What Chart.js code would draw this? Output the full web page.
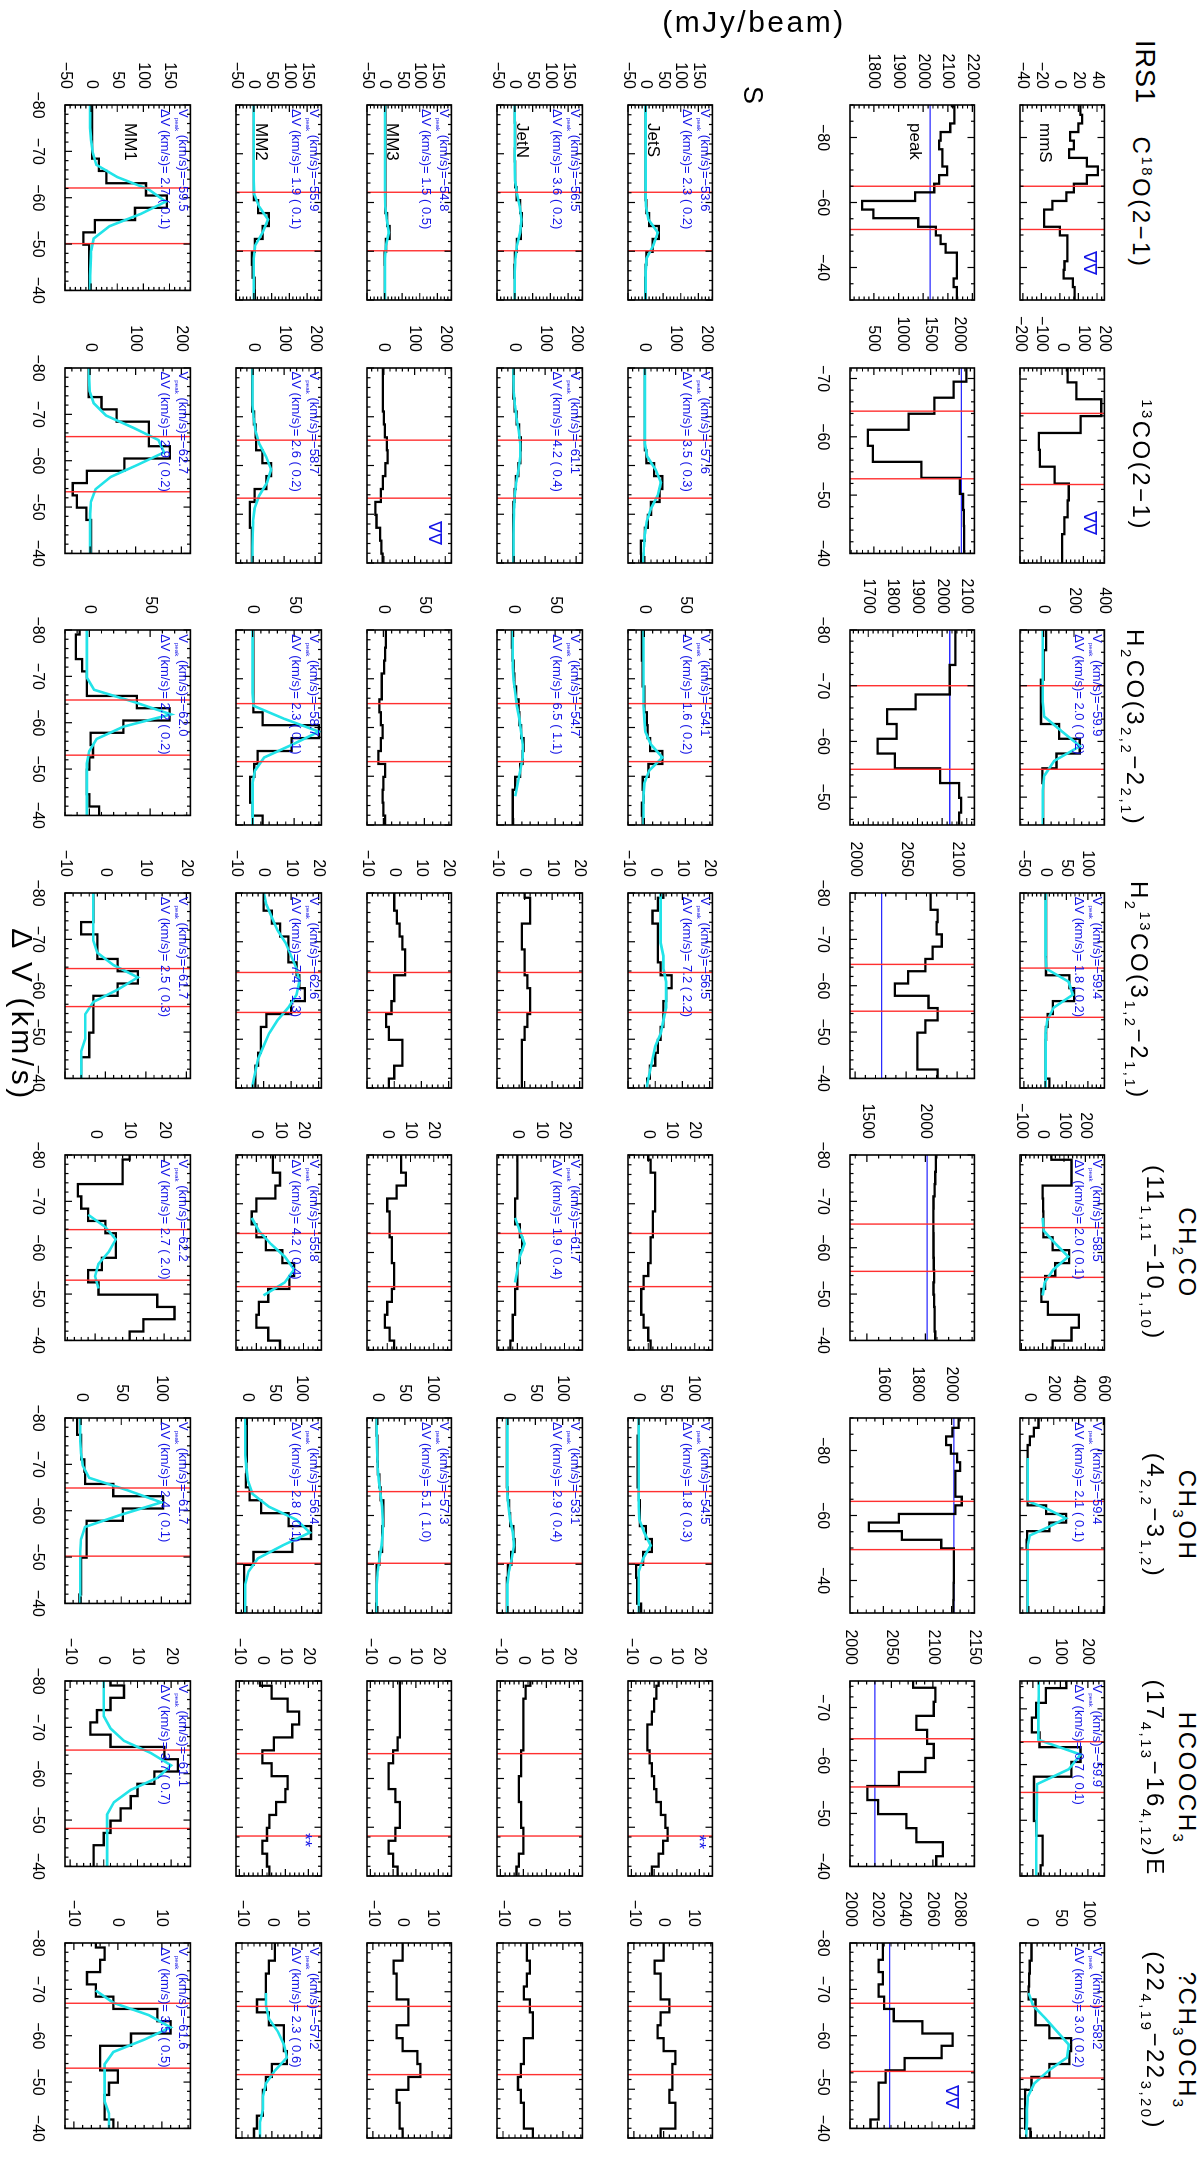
<!DOCTYPE html>
<html>
<head>
<meta charset="utf-8">
<script src="https://cdn.jsdelivr.net/npm/chart.js@4.4.1/dist/chart.umd.min.js"></script>
<style>
html, body { margin: 0; padding: 0; background: #fff; }
body { width: 1200px; height: 2158px; overflow: hidden; position: relative; font-family: "Liberation Sans", Arial, sans-serif; }
#fig { position: absolute; left: 0; top: 0; width: 2158px; height: 1200px; transform-origin: 0 0; transform: translate(1200px, 0) rotate(90deg); }
#fig canvas { position: absolute; }
.t { position: absolute; white-space: nowrap; color: #000; }
.title { font-size: 24px; letter-spacing: 2.5px; line-height: 26px; transform: translateX(-50%); }
.big { font-size: 27px; letter-spacing: 1px; line-height: 30px; }
.src { font-size: 17px; line-height: 20px; }
.ann { font-size: 13px; color: #1414e6; line-height: 18px; }
.ann sub { font-size: 48%; }
sub, sup { font-size: 62%; line-height: 0; }
</style>
</head>
<body>
<div id="fig"></div>
<script>
// channel centres (km/s)
var velS = [-80.35, -77.70, -75.05, -72.40, -69.75, -67.10, -64.45, -61.80, -59.15, -56.50, -53.85, -51.20, -48.55, -45.90, -43.25, -40.60, -37.95];
var velWide = [-90.95, -88.30, -85.65, -83.00, -80.35, -77.70, -75.05, -72.40, -69.75, -67.10, -64.45, -61.80, -59.15, -56.50, -53.85, -51.20, -48.55, -45.90, -43.25, -40.60, -37.95, -35.30, -32.65, -30.00];
var vel13co = [-73.58, -70.83, -68.08, -65.33, -62.58, -59.83, -57.08, -54.33, -51.58, -48.83, -46.08, -43.33, -40.58, -37.83];

// C18O(2-1)
var c18o_mmS = [22, 22, 24, 20, 11, 15, 10, 29, 41, 29, 15, 7, -8, -17, -17, 0, 8, 8, 8, 5, 4, 14, 16, 16];
var c18o_peak = [2117, 2127, 2127, 2110, 2071, 2065, 2078, 2078, 2097, 2065, 2045, 1967, 1752, 1798, 1980, 2052, 2071, 2091, 2137, 2137, 2137, 2124, 2137, 2137];
var c18o_JetS = [0, 0, 0, 0, 0, 0, 0, 0, 2, 10, 38, 20, 2, 0, -1, -1, -1];
var c18o_JetS_fit = [0, 0, 0, 0, 0, 0, 0, 0, 1, 8, 35, 22, 3, 0, 0, 0, 0];
var c18o_JetN = [0, 0, 1, 1, 0, 1, 1, 5, 15, 20, 17, 6, 0, -1, 0, 0, 0];
var c18o_JetN_fit = [0, 0, 0, 0, 0, 0, 1, 6, 14, 19, 15, 6, 2, 0, 0, 0, 0];
var c18o_MM3 = [2, 2, 2, 2, 2, 2, 2, 2, 2, 7, 14, 4, 0, 1, 1, 1, 1];
var c18o_MM3_fit = [1, 1, 1, 1, 1, 1, 1, 1, 2, 6, 12, 4, 1, 1, 1, 1, 1];
var c18o_MM2 = [0, 0, 0, 0, 0, 0, 0, 0, 12, 42, 25, 3, -5, -3, 2, 3, 3];
var c18o_MM2_fit = [0, 0, 0, 0, 0, 0, 0, 1, 15, 40, 25, 4, 0, 0, 0, 0, 0];
var c18o_MM1 = [2, 2, 2, 2, 2, 15, 29, 105, 145, 84, 7, -15, -4, -4, -4, -4, -4];
var c18o_MM1_fit = [-2, -2, -2, 0, 3, 10, 50, 110, 143, 95, 35, 5, 0, -1, -2, -2, -2];

// 13CO(2-1)
var co13_mmS = [26, 26, 67, 185, 87, -111, -106, -36, 31, 26, 10, 0, 0, 0];
var co13_peak = [2128, 2128, 1903, 1564, 1113, 396, 481, 1338, 2016, 2070, 2085, 2090, 2090, 2090];
var co13_JetS = [0, 0, 0, 0, 0, 0, 0, 5, 30, 57, 48, 20, 10, 0, -13, -12, -8];
var co13_JetS_fit = [0, 0, 0, 0, 0, 0, 0, 8, 35, 52, 42, 20, 6, 0, -3, -5, -5];
var co13_JetN = [-2, -2, -2, 2, 8, 16, 22, 20, 14, 6, 2, -2, -3, -3, -3, -3, -3];
var co13_JetN_fit = [-2, -2, -1, 3, 8, 15, 20, 20, 14, 7, 2, 0, -1, -2, -2, -2, -2];
var co13_MM3 = [-3, -3, -3, -3, 0, 3, 10, 12, 5, -3, -10, -28, -24, -12, -8, -4, -4];
var co13_MM2 = [-3, -3, -3, -3, 3, 8, 10, 30, 58, 43, 5, -10, -10, -4, -4, -4, -4];
var co13_MM2_fit = [-2, -2, -2, -2, 2, 8, 20, 42, 58, 45, 20, 5, 0, -1, -2, -2, -2];
var co13_MM1 = [-3, -3, -3, 25, 58, 129, 129, 175, 75, -7, -38, -29, -8, 2, 2, 2, 2];
var co13_MM1_fit = [-2, -2, -1, 8, 35, 95, 150, 162, 105, 45, 12, 2, 0, 0, 0, 0, 0];

// H2CO(3_2,2-2_2,1)
var h2co_mmS = [17, 17, 0, 0, -17, -17, -17, 102, 238, 85, -8, -3, -3, -3, -3, -3, -3];
var h2co_mmS_fit = [-5, -5, -5, -5, -5, -5, 5, 120, 240, 70, 5, -5, -5, -5, -5, -5, -5];
var h2co_peak = [2054, 2054, 2054, 2031, 2031, 1892, 1777, 1815, 1738, 1808, 1992, 2069, 2077, 2069, 2069, 2069, 2069];
var h2co_JetS = [-3, -3, -3, -2, -2, 0, 0, 3, 4, 7, 22, 5, -2, -1, -3, -2, -2];
var h2co_JetS_fit = [-1, -1, -1, -1, -1, -1, -1, 0, 1, 8, 22, 6, 0, -1, -1, -1, -1];
var h2co_JetN = [-2, -2, -1, 0, 1, 3, 6, 7, 9, 12, 11, 8, 2, -1, -1, -1, -1];
var h2co_JetN_fit = [-1, -1, -1, -1, 0, 2, 4, 7, 9, 11, 11, 8, 5, 2, null, null, null];
var h2co_MM3 = [3, 3, 2, 1, -2, -2, -5, -3, -1, -3, -6, 2, 0, -1, 0, 2, 2];
var h2co_MM2 = [1, 1, 1, 1, 1, 1, 1, 12, 80, 47, 6, 2, -3, -3, 0, 12, 12];
var h2co_MM2_fit = [0, 0, 0, 0, 0, 0, 1, 38, 80, 48, 14, 3, 0, 0, 0, 0, 0];
var h2co_MM1 = [-8, -11, -11, -6, -2, -2, 39, 66, 28, 1, 3, 0, -2, -2, 0, 8, 8];
var h2co_MM1_fit = [-2, -2, -2, -2, -2, 4, 37, 67, 28, 6, 0, -2, -2, -2, -2, -2, -2];

// H2 13CO(3_1,2-2_1,1)
var h213co_mmS = [2, 2, 2, 2, 2, 2, 2, 57, 68, 18, 6, 2, 1, 1, 1, 10, 10];
var h213co_mmS_fit = [1, 1, 1, 1, 1, 1, 3, 55, 65, 20, 5, 1, 1, 1, 1, 1, 1];
var h213co_peak = [2074, 2074, 2081, 2080, 2085, 2076, 2069, 2052, 2039, 2072, 2081, 2069, 2061, 2061, 2061, 2081, 2096];
var h213co_JetS = [3, 1, -1, 1, 1, 1, 2, 6, 4, 3, 3, 2, 1, 0, -2, -3, -3];
var h213co_JetS_fit = [2, 2, 2, 2, 2, 3, 3, 4, 4, 4, 3, 2, 0, -1, -2, -3, -3];
var h213co_JetN = [0, 2, 2, -1, -1, 0, 0, 1, 2, 2, 1, 0, -1, -1, -1, -1, -1];
var h213co_MM3 = [0, 0, 1, 2, 3, 4, 4, 0, 0, -1, -3, -2, 3, 3, 0, -2, -2];
var h213co_MM2 = [0, 0, 3, 6, 9, 9, 12, 13, 15, 10, 1, -1, -1, -2, -3, -3, -3];
var h213co_MM2_fit = [0, 1, 3, 5, 8, 10, 12, 13, 12, 9, 5, 2, 0, -2, -3, -4, -4];
var h213co_MM1 = [-3, -3, -3, -6, -2, -2, 3, 8, 3, -3, -3, -3, -4, -4, -6, -6, -6];
var h213co_MM1_fit = [-3, -3, -3, -3, -3, -2, 2, 8, 3, -3, -5, -5, -5, -6, -6, -6, -6];

// CH2CO(11_1,11-10_1,10)
var ch2co_mmS = [41, 135, 135, 0, 2, 3, 3, 47, 124, 59, 12, -6, 24, 170, 135, 47, 47];
var ch2co_mmS_fit = [null, null, null, null, null, 0, 5, 60, 120, 50, 10, 0, null, null, null, null, null];
var ch2co_peak = [2090, 2090, 2085, 2080, 2070, 2068, 2068, 2070, 2070, 2072, 2075, 2070, 2075, 2080, 2080, 2085, 2085];
var ch2co_JetS = [0, 1, 3, 3, 3, 2, 2, 1, 1, 0, -2, -3, -3, -2, 0, 1, 1];
var ch2co_JetN = [0, 0, 0, 0, -1, -1, 1, 2, 1, 0, 0, -1, -1, -2, -2, -3, -3];
var ch2co_JetN_fit = [null, null, null, null, null, -1, 1, 3, 1, 0, -1, null, null, null, null, null, null];
var ch2co_MM3 = [6, 6, 8, 4, 0, 1, 1, 2, 2, 3, 3, 2, 0, -1, 1, 3, 3];
var ch2co_MM2 = [7, 7, 10, 8, 0, -2, 0, 4, 11, 16, 14, 5, 1, 0, 5, 10, 10];
var ch2co_MM2_fit = [null, null, null, null, null, -2, 1, 6, 12, 16, 12, 3, null, null, null, null, null];
var ch2co_MM1 = [10, 8, 8, -5, -4, -2, 3, 6, 6, 2, -2, 1, 18, 23, 14, 10, 10];
var ch2co_MM1_fit = [null, null, null, null, null, -2, 3, 6, 4, 1, 0, 1, null, null, null, null, null];

// CH3OH(4_2,2-3_1,2)
var ch3oh_mmS = [77, 77, 40, 7, -10, -10, -10, -10, -10, -10, -10, 138, 300, 164, -15, -19, -10, -10, -10, -10, -10, -10, -10, -10];
var ch3oh_mmS_fit = [null, null, null, null, null, -10, -10, -10, -10, -10, -10, 160, 298, 160, 7, -8, -10, -10, -10, -10, -10, -10, -10, -10];
var ch3oh_peak = [2041, 2041, 2004, 1967, 1995, 2032, 2050, 2022, 2022, 2022, 2059, 2022, 1691, 1516, 1709, 1939, 2013, 2013, 2013, 2013, 2012, 2011, 2010, 2010];
var ch3oh_JetS = [0, 0, -2, -2, -2, -2, 0, 2, 2, 13, 24, 8, -5, -3, -3, 4, 0];
var ch3oh_JetS_fit = [0, 0, 0, 0, 0, 0, 0, 0, 1, 10, 22, 8, 0, 0, 0, 0, 0];
var ch3oh_JetN = [-2, -2, -2, -2, -2, -2, 0, 2, 4, 10, 12, 6, 0, -2, -2, -2, -2];
var ch3oh_JetN_fit = [-1, -1, -1, -1, -1, -1, -1, 1, 4, 9, 11, 7, 2, -1, -1, -1, -1];
var ch3oh_MM3 = [-2, -2, -1, -1, 0, 3, 5, 10, 10, 8, 8, 3, -2, -2, -2, -3, -3];
var ch3oh_MM3_fit = [-2, -2, -2, -1, 0, 2, 5, 8, 9, 9, 7, 3, 0, -2, -2, -2, -2];
var ch3oh_MM2 = [0, 0, 0, 0, -1, -2, 5, 26, 76, 117, 83, 12, -5, -5, -5, -5, -5];
var ch3oh_MM2_fit = [-3, -3, -3, -3, -1, 2, 10, 40, 90, 115, 65, 20, 3, -3, -3, -3, -3];
var ch3oh_MM1 = [-5, -5, 0, 0, 4, 5, 40, 102, 52, 7, 7, 7, 0, 0, 0, -2, -2];
var ch3oh_MM1_fit = [-1, -1, -1, 0, 2, 10, 57, 100, 50, 5, 0, -1, -1, -1, -1, -1, -1];

// HCOOCH3(17_4,13-16_4,12)E
var hcooch3_mmS = [122, 122, 122, 47, 12, -4, 24, 173, 140, 4, 4, 4, 12, 35, 35, 28, 28];
var hcooch3_mmS_fit = [22, 22, 21, 21, 20, 20, 20, 173, 130, 16, 15, 14, 13, 12, 12, 12, 12];
var hcooch3_peak = [2076, 2076, 2076, 2103, 2101, 2080, 2093, 2101, 2091, 2059, 2021, 2034, 2068, 2080, 2112, 2104, 2104];
var hcooch3_JetS = [2, 1, 0, -1, -3, -3, -2, -1, 0, 1, 3, 5, 6, 4, 2, -1, -1];
var hcooch3_JetN = [3, 1, 0, 0, 0, 0, -1, -1, -2, -2, -1, -1, 0, 0, -2, -3, -3];
var hcooch3_MM3 = [3, 3, 3, 3, 3, 2, 0, -2, -2, 1, 3, 3, 1, -2, 0, 2, 2];
var hcooch3_MM2 = [-1, 4, 11, 16, 13, 5, 0, 4, 11, 10, 6, 3, 2, 0, 2, 3, 3];
var hcooch3_MM1 = [2, 6, 2, -2, -4, 2, 18, 22, 15, 10, 8, 5, 2, 0, -3, -3, -3];
var hcooch3_MM1_fit = [0, 0, 0, 0, 2, 6, 14, 20, 16, 8, 3, 1, 1, 1, 1, 1, 1];

// ?CH3OCH3(22_4,19-22_3,20)
var ch3och3_mmS = [0, 0, -3, -4, -5, 7, 7, 31, 69, 66, 31, 0, -11, -11, -11, -2, -2];
var ch3och3_mmS_fit = [null, null, null, null, -5, 3, 25, 45, 65, 62, 30, 5, -6, -8, -8, -9, -9];
var ch3och3_peak = [2024, 2024, 2021, 2024, 2021, 2025, 2032, 2053, 2075, 2067, 2040, 2026, 2021, 2021, 2021, 2015, 2015];
var ch3och3_JetS = [0, 0, -3, -1, -1, 2, -1, -2, 0, 4, 3, 3, 2, 4, 4, -1, -1];
var ch3och3_JetN = [-2, -2, -1, -2, -3, -1, 0, 0, -3, -3, -4, -5, -4, -3, -3, 0, 0];
var ch3och3_MM3 = [0, 0, -3, -2, -2, 2, 2, -2, 0, 5, 6, 2, -2, -1, -1, 0, 0];
var ch3och3_MM2 = [1, 1, -1, -2, -2, -5, -1, 4, 4, 5, 0, -2, -3, -3, -5, -6, -6];
var ch3och3_MM2_fit = [null, null, null, null, -2, -2, -1, 2, 4, 5, 1, -2, -3, -3, -4, -4, -4];
var ch3och3_MM1 = [-5, -3, -4, -7, -5, -1, 9, 12, 3, -4, -4, 0, -2, -3, -3, -1, -1];
var ch3och3_MM1_fit = [null, null, null, null, -5, -1, 7, 12, 6, -1, -3, -3, -3, -3, -2, -2, -2];

// continuum level drawn in the peak panels (mJy/beam)
var contLevel = [2028, 2042, 2031, 2026, 2016, 2013, 2030, 2029];
// velocity limits (red lines) for the S block and the IRS1 block
var redS = [[-62.1, -50.1], [-65.2, -53.3], [-64.9, -53.0], [-63.7, -55.5], [-63.9, -53.0], [-64.9, -50.2], [-65.1, -48.2], [-67.0, -53.0]];
var redIRS = [[-65.0, -51.7], [-64.4, -52.8], [-70.0, -55.0], [-64.6, -54.5], [-65.1, -54.9], [-64.35, -49.5], [-64.1, -55.0], [-67.0, -52.3]];

// layout (unrotated figure, px)
var colX = [105, 367.6, 630.2, 892.8, 1155.4, 1418, 1680.6, 1943.2];
var PW = 195;
var sNames = ['JetS', 'JetN', 'MM3', 'MM2', 'MM1'];
var sTops = [482, 612, 743, 873, 1004, 1135];
var iTops = [90, 220, 350];
var sVelAxis = [-80, -40, 10];

var cols = [
  { t1: 'C<sup>18</sup>O(2\u22121)', t2: null, tTop: 46,
    sY: [-50, 190, 50],
    s: { JetS: [c18o_JetS, c18o_JetS_fit], JetN: [c18o_JetN, c18o_JetN_fit], MM3: [c18o_MM3, c18o_MM3_fit], MM2: [c18o_MM2, c18o_MM2_fit], MM1: [c18o_MM1, c18o_MM1_fit] },
    sAnn: { JetS: ['\u221253.6', '2.3', '0.2'], JetN: ['\u221256.5', '3.6', '0.2'], MM3: ['\u221254.8', '1.5', '0.5'], MM2: ['\u221255.9', '1.9', '0.1'], MM1: ['\u221259.5', '2.7', '0.1'] },
    sMarks: {},
    iVel: velWide, iX: [-90, -30, 20],
    mmS: [c18o_mmS, null], mmSY: [-43, 48, 20], mmSAnn: null, mmSMarks: [['\u2207\u2207', -41.4, 31]],
    peak: c18o_peak, peakY: [1703, 2208, 100], peakMarks: [] },
  { t1: '<sup>13</sup>CO(2\u22121)', t2: null, tTop: 46,
    sY: [-55, 220, 100],
    s: { JetS: [co13_JetS, co13_JetS_fit], JetN: [co13_JetN, co13_JetN_fit], MM3: [co13_MM3, null], MM2: [co13_MM2, co13_MM2_fit], MM1: [co13_MM1, co13_MM1_fit] },
    sAnn: { JetS: ['\u221257.6', '3.5', '0.3'], JetN: ['\u221261.1', '4.2', '0.4'], MM2: ['\u221258.7', '2.6', '0.2'], MM1: ['\u221262.7', '2.9', '0.2'] },
    sMarks: { MM3: [['\u2207\u2207', -46.1, 162]] },
    iVel: vel13co, iX: [-71.8, -40, 10],
    mmS: [co13_mmS, null], mmSY: [-200, 200, 100], mmSAnn: null, mmSMarks: [['\u2207\u2207', -46.5, 126]],
    peak: co13_peak, peakY: [80, 2270, 500], peakMarks: [] },
  { t1: 'H<sub>2</sub>CO(3<sub>2,2</sub>\u22122<sub>2,1</sub>)', t2: null, tTop: 52,
    sY: [-20, 83, 50],
    s: { JetS: [h2co_JetS, h2co_JetS_fit], JetN: [h2co_JetN, h2co_JetN_fit], MM3: [h2co_MM3, null], MM2: [h2co_MM2, h2co_MM2_fit], MM1: [h2co_MM1, h2co_MM1_fit] },
    sAnn: { JetS: ['\u221254.1', '1.6', '0.2'], JetN: ['\u221254.7', '6.5', '1.1'], MM2: ['\u221258.7', '2.3', '0.1'], MM1: ['\u221262.0', '2.2', '0.2'] },
    sMarks: {},
    iVel: velS, iX: [-80, -45, 10],
    mmS: [h2co_mmS, h2co_mmS_fit], mmSY: [-155, 400, 200], mmSAnn: ['\u221259.9', '2.0', '0.2'], mmSMarks: [],
    peak: h2co_peak, peakY: [1626, 2131, 100], peakMarks: [] },
  { t1: 'H<sub>2</sub><sup>13</sup>CO(3<sub>1,2</sub>\u22122<sub>1,1</sub>)', t2: null, tTop: 48,
    sY: [-10, 21, 10],
    s: { JetS: [h213co_JetS, h213co_JetS_fit], JetN: [h213co_JetN, null], MM3: [h213co_MM3, null], MM2: [h213co_MM2, h213co_MM2_fit], MM1: [h213co_MM1, h213co_MM1_fit] },
    sAnn: { JetS: ['\u221256.5', '7.2', '2.2'], MM2: ['\u221262.6', '7.4', '1.3'], MM1: ['\u221261.7', '2.5', '0.3'] },
    sMarks: {},
    iVel: velS, iX: [-80, -40, 10],
    mmS: [h213co_mmS, h213co_mmS_fit], mmSY: [-59, 139, 50], mmSAnn: ['\u221259.4', '1.8', '0.2'], mmSMarks: [],
    peak: h213co_peak, peakY: [1995, 2117, 50], peakMarks: [] },
  { t1: 'CH<sub>2</sub>CO', t2: '(11<sub>1,11</sub>\u221210<sub>1,10</sub>)', tTop: 0,
    sY: [-8.7, 27.6, 10],
    s: { JetS: [ch2co_JetS, null], JetN: [ch2co_JetN, ch2co_JetN_fit], MM3: [ch2co_MM3, null], MM2: [ch2co_MM2, ch2co_MM2_fit], MM1: [ch2co_MM1, ch2co_MM1_fit] },
    sAnn: { JetN: ['\u221261.7', '1.9', '0.4'], MM2: ['\u221255.8', '4.2', '0.4'], MM1: ['\u221262.2', '2.7', '2.0'] },
    sMarks: {},
    iVel: velS, iX: [-80, -40, 10],
    mmS: [ch2co_mmS, ch2co_mmS_fit], mmSY: [-106, 289, 100], mmSAnn: ['\u221258.5', '2.0', '0.1'], mmSMarks: [],
    peak: ch2co_peak, peakY: [1355, 2420, 500], peakMarks: [] },
  { t1: 'CH<sub>3</sub>OH', t2: '(4<sub>2,2</sub>\u22123<sub>1,2</sub>)', tTop: 0,
    sY: [-20, 136, 50],
    s: { JetS: [ch3oh_JetS, ch3oh_JetS_fit], JetN: [ch3oh_JetN, ch3oh_JetN_fit], MM3: [ch3oh_MM3, ch3oh_MM3_fit], MM2: [ch3oh_MM2, ch3oh_MM2_fit], MM1: [ch3oh_MM1, ch3oh_MM1_fit] },
    sAnn: { JetS: ['\u221254.5', '1.8', '0.3'], JetN: ['\u221253.1', '2.9', '0.4'], MM3: ['\u221257.3', '5.1', '1.0'], MM2: ['\u221256.4', '2.8', '0.1'], MM1: ['\u221261.7', '2.4', '0.1'] },
    sMarks: {},
    iVel: velWide, iX: [-90, -30, 20],
    mmS: [ch3oh_mmS, ch3oh_mmS_fit], mmSY: [-72, 608, 200], mmSAnn: ['\u221259.4', '2.1', '0.1'], mmSMarks: [],
    peak: ch3oh_peak, peakY: [1405, 2133, 200], peakMarks: [] },
  { t1: 'HCOOCH<sub>3</sub>', t2: '(17<sub>4,13</sub>\u221216<sub>4,12</sub>)E', tTop: 0,
    sY: [-11.5, 25.7, 10],
    s: { JetS: [hcooch3_JetS, null], JetN: [hcooch3_JetN, null], MM3: [hcooch3_MM3, null], MM2: [hcooch3_MM2, null], MM1: [hcooch3_MM1, hcooch3_MM1_fit] },
    sAnn: { MM1: ['\u221261.1', '3.7', '0.7'] },
    sMarks: { JetS: [['**', -47.0, 19.4]], MM2: [['**', -47.4, 18]] },
    iVel: velS, iX: [-75, -40, 10],
    mmS: [hcooch3_mmS, hcooch3_mmS_fit], mmSY: [-47, 260, 100], mmSAnn: ['\u221259.9', '0.7', '0.1'], mmSMarks: [],
    peak: hcooch3_peak, peakY: [2000, 2150, 50], peakMarks: [] },
  { t1: '?CH<sub>3</sub>OCH<sub>3</sub>', t2: '(22<sub>4,19</sub>\u221222<sub>3,20</sub>)', tTop: 0,
    sY: [-12, 16.5, 10],
    s: { JetS: [ch3och3_JetS, null], JetN: [ch3och3_JetN, null], MM3: [ch3och3_MM3, null], MM2: [ch3och3_MM2, ch3och3_MM2_fit], MM1: [ch3och3_MM1, ch3och3_MM1_fit] },
    sAnn: { MM2: ['\u221257.2', '2.3', '0.6'], MM1: ['\u221261.6', '3.5', '0.5'] },
    sMarks: {},
    iVel: velS, iX: [-80, -40, 10],
    mmS: [ch3och3_mmS, ch3och3_mmS_fit], mmSY: [-20, 127, 50], mmSAnn: ['\u221258.2', '3.0', '0.2'], mmSMarks: [],
    peak: ch3och3_peak, peakY: [2000, 2091, 20], peakMarks: [['\u2207\u2207', -46.7, 2074]] }
];

var fig = document.getElementById('fig');
var FONT = '"Liberation Sans", Arial, sans-serif';

function fmt(v) {
  v = Math.round(v * 1000) / 1000;
  return v < 0 ? '\u2212' + (-v) : '' + v;
}

function minorOf(step) {
  var lead = step / Math.pow(10, Math.floor(Math.log10(step) + 1e-9));
  return Math.abs(lead - 2) < 1e-6 ? step / 4 : step / 5;
}

// tick values that are whole multiples of the step inside [min, max]
function multiples(min, max, step) {
  var out = [];
  var n0 = Math.ceil(min / step - 1e-6), n1 = Math.floor(max / step + 1e-6);
  for (var n = n0; n <= n1; n++) out.push(Math.round(n * step * 1000) / 1000);
  return out;
}

function tickLoop(ctx, scale, step, fn) {
  var minor = minorOf(step);
  ctx.beginPath();
  multiples(scale.min, scale.max, minor).forEach(function (v) {
    var major = Math.abs(v / step - Math.round(v / step)) < 1e-6;
    fn(scale.getPixelForValue(v), major ? 7 : 3.5);
  });
  ctx.stroke();
}

// frame, inward ticks on all sides, red velocity limits and markers
var deco = {
  id: 'deco',
  afterDatasetsDraw: function (chart) {
    var o = chart.options.plugins.deco;
    var ctx = chart.ctx, a = chart.chartArea, x = chart.scales.x, y = chart.scales.y;
    ctx.save();
    ctx.beginPath();
    ctx.rect(a.left, a.top, a.right - a.left, a.bottom - a.top);
    ctx.clip();
    ctx.strokeStyle = '#ff3030';
    ctx.lineWidth = 1.4;
    o.red.forEach(function (v) {
      var p = x.getPixelForValue(v);
      ctx.beginPath(); ctx.moveTo(p, a.top); ctx.lineTo(p, a.bottom); ctx.stroke();
    });
    ctx.fillStyle = '#1414e6';
    ctx.font = '18px ' + FONT;
    ctx.textAlign = 'center';
    ctx.textBaseline = 'middle';
    o.marks.forEach(function (m) {
      ctx.fillText(m[0], x.getPixelForValue(m[1]), y.getPixelForValue(m[2]));
    });
    ctx.restore();

    ctx.save();
    ctx.strokeStyle = '#000';
    ctx.lineWidth = 1.2;
    tickLoop(ctx, x, o.xStep, function (p, L) {
      ctx.moveTo(p, a.bottom); ctx.lineTo(p, a.bottom - L);
      ctx.moveTo(p, a.top); ctx.lineTo(p, a.top + L);
    });
    tickLoop(ctx, y, o.yStep, function (p, L) {
      ctx.moveTo(a.left, p); ctx.lineTo(a.left + L, p);
      ctx.moveTo(a.right, p); ctx.lineTo(a.right - L, p);
    });
    ctx.lineWidth = 1.6;
    ctx.strokeRect(a.left, a.top, a.right - a.left, a.bottom - a.top);
    ctx.restore();
  }
};

function pts(vel, vals) {
  return vel.map(function (v, i) { return { x: v, y: vals[i] }; });
}

function panel(left, top, ph, showX, xr, yr, vel, data, fit, cont, red, marks) {
  var W = 72 + PW + 14, H = 12 + ph + (showX ? 40 : 10);
  var c = document.createElement('canvas');
  c.width = W; c.height = H;
  c.style.left = (left - 72) + 'px';
  c.style.top = (top - 12) + 'px';
  c.style.width = W + 'px'; c.style.height = H + 'px';
  fig.appendChild(c);

  var ds = [{ data: pts(vel, data), borderColor: '#000', borderWidth: 2.3, stepped: 'middle', order: 1, clip: 0 }];
  if (fit) ds.push({ data: pts(vel, fit), borderColor: '#22e3e8', borderWidth: 2.6, order: 0, clip: 0 });
  if (cont != null) ds.push({ data: [{ x: xr[0], y: cont }, { x: xr[1], y: cont }], borderColor: '#2b2bff', borderWidth: 1.3, order: 2, clip: 0 });

  var tickFont = { size: 16, family: FONT };
  new Chart(c, {
    type: 'line',
    data: { datasets: ds },
    options: {
      responsive: false, animation: false, events: [],
      layout: { padding: { top: 12, right: 14, left: 0, bottom: showX ? 0 : 10 } },
      elements: { point: { radius: 0 }, line: { tension: 0, fill: false } },
      plugins: { legend: { display: false }, tooltip: { enabled: false },
        deco: { red: red, marks: marks || [], xStep: xr[2], yStep: yr[2] } },
      scales: {
        x: { type: 'linear', min: xr[0], max: xr[1], display: showX,
          grid: { display: false }, border: { display: false },
          ticks: { autoSkip: false, maxRotation: 0, padding: 10,
            color: '#000', font: tickFont, callback: fmt },
          afterBuildTicks: function (s) { s.ticks = multiples(xr[0], xr[1], xr[2]).map(function (v) { return { value: v }; }); },
          afterFit: function (s) { s.height = 40; } },
        y: { type: 'linear', min: yr[0], max: yr[1],
          grid: { display: false }, border: { display: false },
          ticks: { autoSkip: false, padding: 8,
            color: '#000', font: tickFont, callback: fmt },
          afterBuildTicks: function (s) { s.ticks = multiples(yr[0], yr[1], yr[2]).map(function (v) { return { value: v }; }); },
          afterFit: function (s) { s.width = 72; } }
      }
    },
    plugins: [deco]
  });
}

function text(html, left, top, cls, extra) {
  var d = document.createElement('div');
  d.className = 't ' + cls;
  d.innerHTML = html;
  d.style.left = left + 'px';
  d.style.top = top + 'px';
  if (extra) d.style.cssText += extra;
  fig.appendChild(d);
  return d;
}

function annot(a, left, top) {
  if (!a) return;
  text('V<sub>peak</sub> (km/s)=' + a[0] + '<br>\u0394V (km/s)= ' + a[1] + ' ( ' + a[2] + ')', left + 4, top + 4, 'ann');
}

cols.forEach(function (col, k) {
  var x0 = colX[k];
  // IRS1 block: mmS and peak
  panel(x0, iTops[0], iTops[1] - iTops[0], false, col.iX, col.mmSY, col.iVel, col.mmS[0], col.mmS[1], null, redIRS[k], col.mmSMarks);
  annot(col.mmSAnn, x0, iTops[0]);
  panel(x0, iTops[1], iTops[2] - iTops[1], true, col.iX, col.peakY, col.iVel, col.peak, null, contLevel[k], redIRS[k], col.peakMarks);
  // S block
  sNames.forEach(function (nm, r) {
    var top = sTops[r], ph = sTops[r + 1] - sTops[r];
    var pr = col.s[nm];
    panel(x0, top, ph, r === sNames.length - 1, sVelAxis, col.sY, velS, pr[0], pr[1], null, redS[k], col.sMarks[nm]);
    annot(col.sAnn[nm], x0, top);
  });
  // column title
  var cx = x0 + PW / 2;
  if (col.t2) {
    text(col.t1, cx, 0, 'title');
    text(col.t2, cx, 32, 'title');
  } else {
    text(col.t1, cx, col.tTop, 'title');
  }
});

// source labels in the first column
text('mmS', colX[0] + 18, iTops[0] + 55, 'src');
text('peak', colX[0] + 18, iTops[1] + 55, 'src');
sNames.forEach(function (nm, r) {
  text(nm, colX[0] + 18, sTops[r] + (sTops[r + 1] - sTops[r]) / 2 - 10, 'src');
});

// block and axis labels
text('IRS1', 40, 40, 'big');
text('S', 86, 432, 'big');
text('(mJy/beam)', 22, 446, 'big', 'font-size: 30px; letter-spacing: 2.5px; transform: translate(-50%, -50%) rotate(-90deg);');
text('\u0394 V (km/s)', 1015, 1178, 'big', 'font-size: 30px; letter-spacing: 3.5px; transform: translate(-50%, -50%);');
</script>
</body>
</html>
